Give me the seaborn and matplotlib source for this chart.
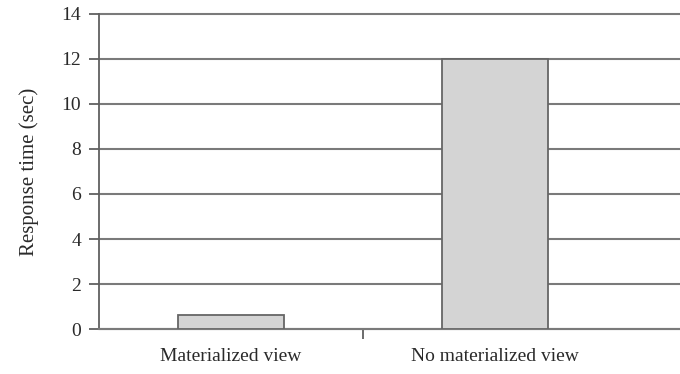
import matplotlib
matplotlib.use("Agg")
import matplotlib.pyplot as plt
import seaborn as sns
import pandas as pd
from matplotlib.ticker import FixedLocator

categories = ["Materialized view", "No materialized view"]
response_sec = [0.62, 12.0]
y_ticks = [0, 2, 4, 6, 8, 10, 12, 14]

sns.set_style("white")
plt.rcParams["font.family"] = ["Liberation Serif", "DejaVu Serif"]

df = pd.DataFrame({"setup": categories, "time": response_sec})

fig = plt.figure(figsize=(6.8, 3.74), dpi=100)
ax = fig.add_axes([0.1456, 0.1203, 0.8544, 0.8423])

sns.barplot(data=df, x="setup", y="time", ax=ax, color="#d4d4d4",
            edgecolor="#666666", linewidth=1.3, width=0.40, saturation=1,
            zorder=3)

ax.set_ylim(0, 14)
ax.set_xlim(-0.5, 1.70)
ax.set_yticks(y_ticks)
ax.yaxis.grid(True, color="#7a7a7a", linewidth=1.5, zorder=0)
for gl in ax.get_ygridlines():
    gl.set_clip_on(False)
ax.set_axisbelow(True)

for side in ["top", "right"]:
    ax.spines[side].set_visible(False)
ax.spines["left"].set_color("#606060")
ax.spines["bottom"].set_color("#7a7a7a")
ax.spines["left"].set_linewidth(1.3)
ax.spines["bottom"].set_linewidth(1.5)

ax.tick_params(axis="y", left=True, direction="out", length=7, width=1.3,
               color="#606060", labelsize=14, labelcolor="#2a2a2a", pad=6)
ax.tick_params(axis="x", which="major", bottom=False, length=0, labelsize=14,
               labelcolor="#2a2a2a", pad=14)
ax.xaxis.set_minor_locator(FixedLocator([0.5]))
ax.tick_params(axis="x", which="minor", bottom=True, direction="out",
               length=7, width=1.3, color="#606060")

ax.set_xlabel("")
ax.set_ylabel("Response time (sec)", fontsize=15, color="#2a2a2a",
              labelpad=16)

fig.savefig("out.png", dpi=100)
